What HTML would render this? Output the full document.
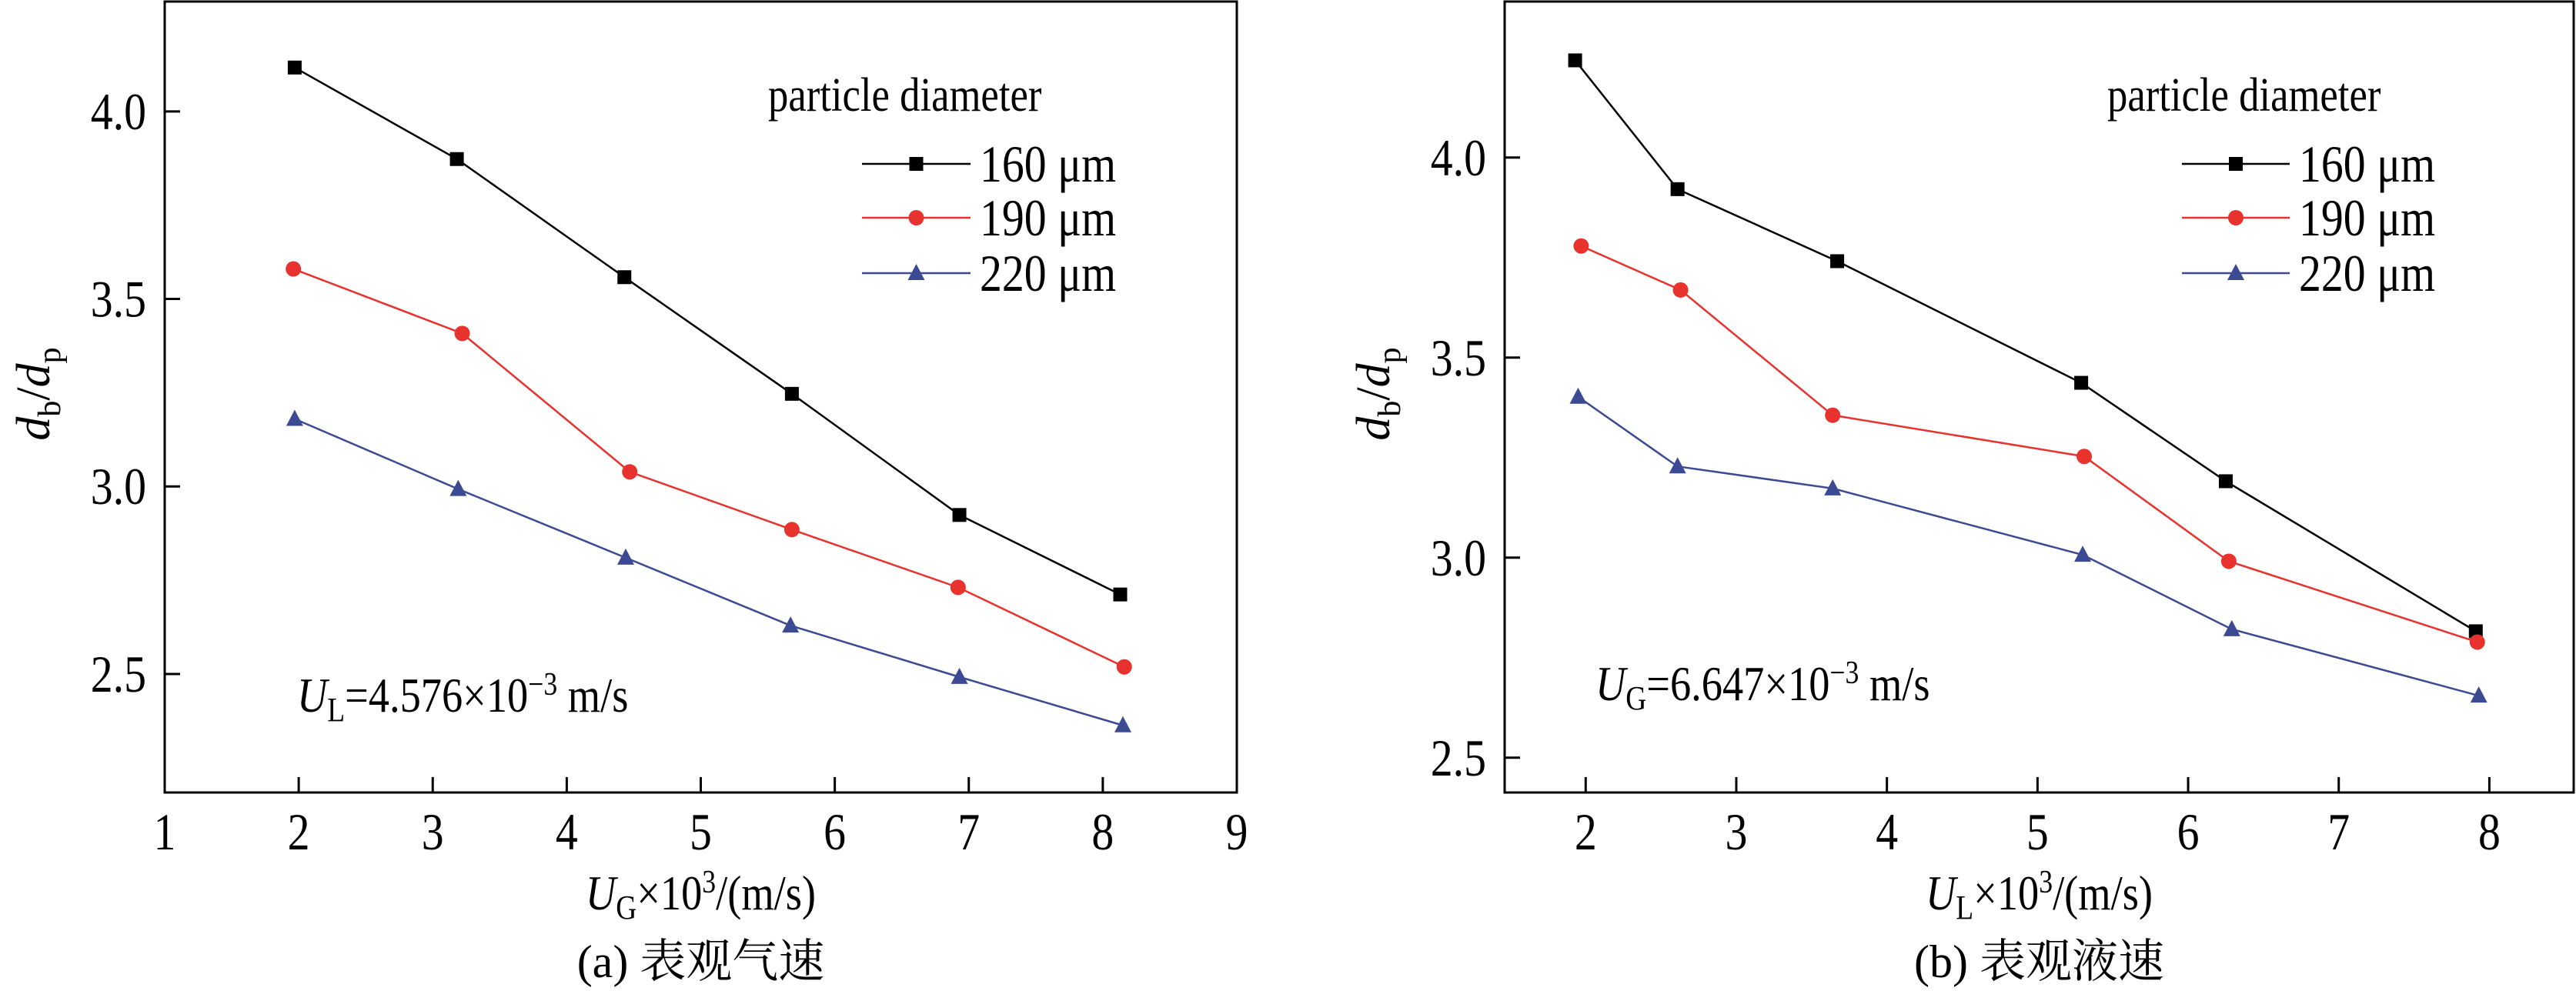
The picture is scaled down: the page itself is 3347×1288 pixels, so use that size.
<!DOCTYPE html>
<html><head><meta charset="utf-8"><style>
html,body{margin:0;padding:0;background:#fff;}
svg{display:block;font-family:"Liberation Serif","Noto Serif CJK SC",serif;}
</style></head><body>
<svg id="svg" width="3347" height="1288" viewBox="0 0 3347 1288" xmlns="http://www.w3.org/2000/svg"></svg>
<script>
// ---- Chart (a) data ----
const xA160 = [1.97,3.18,4.43,5.68,6.93,8.13];
const yA160 = [4.117,3.873,3.558,3.247,2.924,2.712];
const xA190 = [1.96,3.22,4.47,5.68,6.92,8.16];
const yA190 = [3.580,3.408,3.039,2.885,2.731,2.519];
const xA220 = [1.97,3.19,4.44,5.67,6.93,8.15];
const yA220 = [3.180,2.993,2.810,2.629,2.492,2.363];
const xTicksA = [1,2,3,4,5,6,7,8,9];
const yTicksA = [2.5,3.0,3.5,4.0];
// ---- Chart (b) data ----
const xB160 = [1.93,2.61,3.67,5.29,6.25,7.91];
const yB160 = [4.243,3.921,3.741,3.437,3.191,2.816];
const xB190 = [1.97,2.63,3.64,5.31,6.27,7.92];
const yB190 = [3.779,3.669,3.356,3.253,2.991,2.789];
const xB220 = [1.95,2.61,3.64,5.30,6.29,7.93];
const yB220 = [3.402,3.228,3.173,3.007,2.821,2.655];
const xTicksB = [2,3,4,5,6,7,8];
const yTicksB = [2.5,3.0,3.5,4.0];
const seriesNames = ["160 μm","190 μm","220 μm"];

const NS="http://www.w3.org/2000/svg";
const svg=document.getElementById('svg');
function mk(tag,attrs,parent){const e=document.createElementNS(NS,tag);for(const k in attrs)e.setAttribute(k,attrs[k]);(parent||svg).appendChild(e);return e;}
const SX=0.85;
function narrow(el,x){el.setAttribute('transform',`matrix(${SX},0,0,1,${(1-SX)*x},0)`);}

function chart(cfg){
  const g=mk('g',{});
  
  
  const X=v=>cfg.L+(v-cfg.x0)/(cfg.x1-cfg.x0)*(cfg.R-cfg.L);
  const Y=v=>cfg.B-(v-cfg.y0)/(cfg.y1-cfg.y0)*(cfg.B-cfg.T);
  const frame=mk('rect',{x:cfg.L,y:cfg.T,width:cfg.R-cfg.L,height:cfg.B-cfg.T,fill:'none',stroke:'#000','stroke-width':3},g);
  
  
  cfg.xt.forEach(v=>{
    const x=X(v);
    const t=mk('line',{x1:x,x2:x,y1:cfg.B,y2:cfg.B-20,stroke:'#000','stroke-width':3},g);
    
    
    const l=mk('text',{x:x,y:1104,'font-size':68,'text-anchor':'middle'},g);
    narrow(l,x);
    l.textContent=v;
    
    
  });
  cfg.yt.forEach(v=>{
    const y=Y(v);
    const t=mk('line',{x1:cfg.L,x2:cfg.L+20,y1:y,y2:y,stroke:'#000','stroke-width':3},g);
    
    
    const l=mk('text',{x:cfg.L-24,y:y+23,'font-size':68,'text-anchor':'end'},g);
    narrow(l,cfg.L-24);
    l.textContent=v.toFixed(1);
    
    
  });
  const colors=['#000','#e8322d','#3b4a92'];
  const shapes=['sq','ci','tr'];
  function marker(x,y,s,c){
    let m;
    if(s==='sq') m=mk('rect',{x:x-9,y:y-9,width:18,height:18,fill:c},g);
    else if(s==='ci') m=mk('circle',{cx:x,cy:y,r:10,fill:c},g);
    else m=mk('polygon',{points:`${x},${y-12} ${x-11},${y+9} ${x+11},${y+9}`,fill:c},g);
    return m;
  }
  cfg.series.forEach((s,i)=>{
    const pts=s[0].map((v,j)=>X(v)+','+Y(s[1][j])).join(' ');
    const pl=mk('polyline',{points:pts,fill:'none',stroke:colors[i],'stroke-width':2.5},g);
    
    
    s[0].forEach((v,j)=>{
      const m=marker(X(v),Y(s[1][j]),shapes[i],colors[i]);
      
      
    });
    const ly=cfg.legY[i];
    const ll=mk('line',{x1:cfg.legX1,x2:cfg.legX2,y1:ly,y2:ly,stroke:colors[i],'stroke-width':2.5},g);
    
    
    const lm=marker((cfg.legX1+cfg.legX2)/2,ly,shapes[i],colors[i]);
    
    
    const lt=mk('text',{x:cfg.legX2+12,y:ly+23,'font-size':68},g);
    narrow(lt,cfg.legX2+12);
    lt.textContent=seriesNames[i];
    
    
  });
  const lh=mk('text',{x:cfg.legTX,y:144,'font-size':62},g);
  narrow(lh,cfg.legTX);
  lh.textContent='particle diameter';
  
  
  const yt=mk('text',{transform:`translate(${cfg.L-150},512) rotate(-90)`,'font-size':62,'text-anchor':'middle'},g);
  yt.innerHTML='<tspan font-style="italic">d</tspan><tspan font-size="42" dy="14">b</tspan><tspan dy="-14">/</tspan><tspan font-style="italic">d</tspan><tspan font-size="42" dy="14">p</tspan>';
  
  
  const xc=(cfg.L+cfg.R)/2;
  const xt=mk('text',{x:xc,y:1182,'font-size':64,'text-anchor':'middle'},g);
  narrow(xt,xc);
  xt.innerHTML=`<tspan font-style="italic">U</tspan><tspan font-size="44" dy="12">${cfg.xsub}</tspan><tspan dy="-12">×10</tspan><tspan font-size="42" dy="-22">3</tspan><tspan dy="22">/(m/s)</tspan>`;
  
  
  const cap=mk('text',{x:xc,y:1270,'font-size':60,'text-anchor':'middle'},g);
  cap.textContent=cfg.caption;
  
  
  const an=mk('text',{x:cfg.annX,y:cfg.annY,'font-size':64},g);
  narrow(an,cfg.annX);
  an.innerHTML=`<tspan font-style="italic">U</tspan><tspan font-size="44" dy="12">${cfg.annSub}</tspan><tspan dy="-12">=${cfg.annVal}×10</tspan><tspan font-size="42" dy="-22">−3</tspan><tspan dy="22"> m/s</tspan>`;
  
  
}

chart({name:'chart-a',L:214,R:1607,T:2,B:1030,x0:1,x1:9,y0:2.184,y1:4.293,
  xt:xTicksA,yt:yTicksA,series:[[xA160,yA160],[xA190,yA190],[xA220,yA220]],
  legX1:1120,legX2:1261,legY:[213,283,355],legTX:998,xsub:'G',
  caption:'(a) 表观气速',annX:386,annY:925,annSub:'L',annVal:'4.576'});
chart({name:'chart-b',L:1955,R:3344,T:2,B:1030,x0:1.462,x1:8.56,y0:2.413,y1:4.39,
  xt:xTicksB,yt:yTicksB,series:[[xB160,yB160],[xB190,yB190],[xB220,yB220]],
  legX1:2835,legX2:2975,legY:[213,283,355],legTX:2738,xsub:'L',
  caption:'(b) 表观液速',annX:2073,annY:910,annSub:'G',annVal:'6.647'});
</script>
</body></html>
